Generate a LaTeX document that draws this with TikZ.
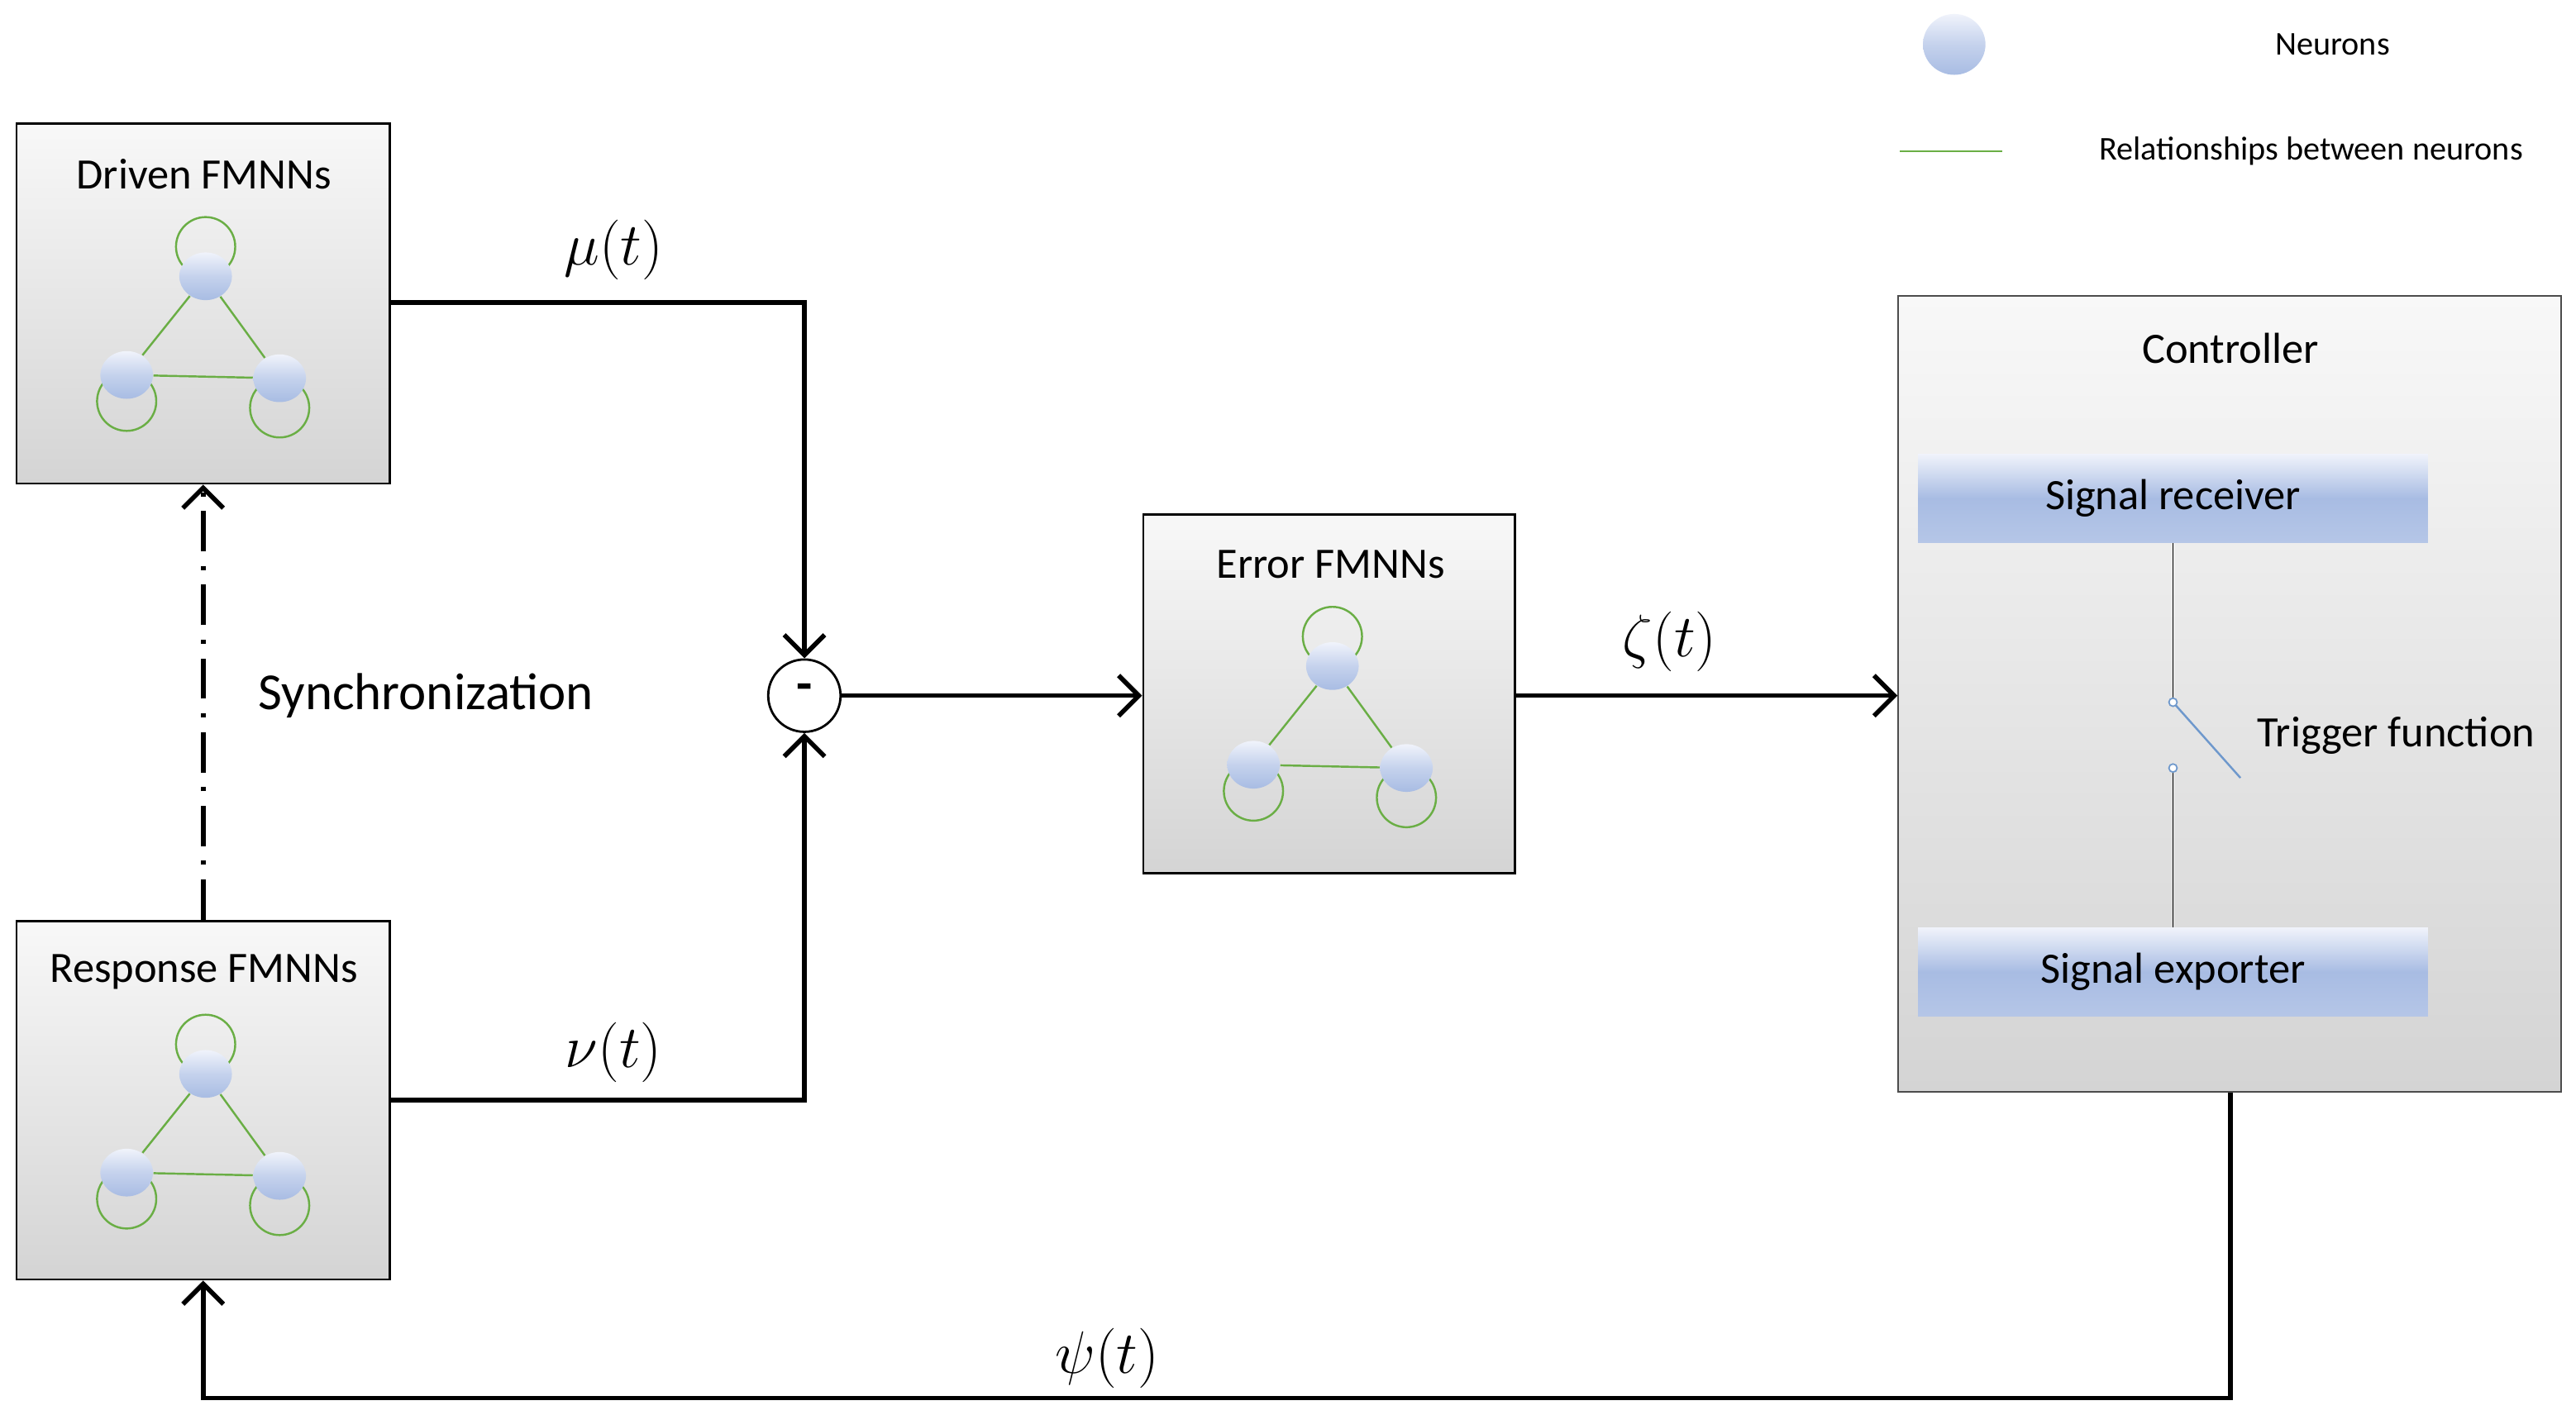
\documentclass[tikz,border=0pt]{standalone}
\usepackage{fontspec}
\setmainfont{Carlito}
\usetikzlibrary{arrows.meta,shapes.geometric,shadings}
\definecolor{nTop}{HTML}{F0F3FB}
\definecolor{nBot}{HTML}{A8BCE3}
\definecolor{gTop}{HTML}{F8F8F8}
\definecolor{gBot}{HTML}{D4D4D4}
\definecolor{lg}{HTML}{6AAE45}
\definecolor{sw}{HTML}{6E98CC}
\tikzset{
  box/.style={draw=black, line width=0.8pt, top color=gTop, bottom color=gBot, inner sep=0pt},
  neuron/.style={ellipse, inner sep=0pt, minimum width=0.64cm, minimum height=0.58cm, top color=nTop, bottom color=nBot, middle color=nBot!60!nTop},
  rel/.style={draw=lg, line width=0.7pt},
  bar/.style={inner sep=0pt, minimum width=6.2cm, minimum height=1.08cm, top color=nTop, bottom color=nBot!85!white, middle color=nBot},
  flow/.style={line width=1.6pt, -{Straight Barb[length=7pt,width=14pt,line width=1.6pt]}},
  ttl/.style={font=\fontsize{15}{18}\selectfont},
  ml/.style={font=\fontsize{22}{26}\selectfont},
  leg/.style={font=\fontsize{11.5}{13}\selectfont},
}
\newcommand{\fmnnnet}[3]{%
  \draw[rel] (#2,#3-18) circle (0.36cm);
  \draw[rel] (#2-48,#3+76) circle (0.36cm);
  \draw[rel] (#2+45,#3+80) circle (0.36cm);
  \node[neuron] (#1t) at (#2,#3) {};
  \node[neuron] (#1l) at (#2-48,#3+60) {};
  \node[neuron] (#1r) at (#2+45,#3+62) {};
  \draw[rel] (#1t) -- (#1l);
  \draw[rel] (#1t) -- (#1r);
  \draw[rel] (#1l) -- (#1r);
}
\begin{document}
\begin{tikzpicture}[x=0.02cm,y=-0.02cm]
\useasboundingbox (0,0) rectangle (1566,860.4);
% boxes
\node[box, minimum width=4.54cm, minimum height=4.38cm] (drv) at (123.5,184.5) {};
\node[box, minimum width=4.54cm, minimum height=4.36cm] (rsp) at (123.5,669) {};
\node[box, minimum width=4.52cm, minimum height=4.36cm] (err) at (808,422) {};
\node[box, draw=black!70, line width=0.6pt, minimum width=8.06cm, minimum height=9.68cm] (ctl) at (1355.5,422) {};
\node[ttl] (drvT) at (124,106) {Driven FMNNs};
\node[ttl] (rspT) at (124,591) {Response FMNNs};
\node[ttl] (errT) at (809,343) {Error FMNNs};
\node[ttl] (ctlT) at (1356,212) {Controller};
\fmnnnet{d}{125}{168}
\fmnnnet{r}{125}{653}
\fmnnnet{e}{810}{405}
% controller internals
\node[bar, ttl] (rcv) at (1321,303) {Signal receiver};
\node[bar, ttl] (exp) at (1321,591) {Signal exporter};
\coordinate (s1) at (1321,427);
\coordinate (s2) at (1321,467);
\coordinate (s3) at (1362,473);
\draw[line width=0.5pt] (rcv.south -| s1) -- ([yshift=-0.05cm]s1);
\draw[line width=0.5pt] ([yshift=0.05cm]s2) -- (exp.north -| s2);
\draw[sw, line width=0.7pt] (s1) -- (s3);
\draw[sw, line width=0.5pt, fill=white] (s1) circle (0.05cm);
\draw[sw, line width=0.5pt, fill=white] (s2) circle (0.05cm);
\node[ttl, anchor=west] (trg) at (1366,447) {Trigger function};
% summing junction
\node[circle, draw, line width=0.8pt, minimum size=0.88cm, inner sep=0pt, fill=white] (sum) at (489,423) {};
\node[font=\fontsize{18}{18}\bfseries\selectfont] (minus) at (489,421) {-};
% flows
\draw[flow] (drv.east |- 0,184) -| (sum.north);
\draw[flow] (rsp.east |- 0,669) -| (sum.south);
\draw[flow] (sum.east) -- (err.west |- sum.east);
\draw[flow] (err.east |- 0,423) -- (ctl.west |- 0,423);
\coordinate (c1) at (1356,850);
\draw[flow] (ctl.south -| c1) -- (c1) -| (rsp.south);
\draw[line width=1.6pt, dash pattern=on 14pt off 5pt on 1.5pt off 5pt, -{Straight Barb[length=7pt,width=14pt,line width=1.6pt]}] (rsp.north) -- (drv.south);
% labels
\node[ml] (mu) at (373,152) {$\mu(t)$};
\node[ml] (nu) at (373,640) {$\nu(t)$};
\node[ml] (ze) at (1015,390) {$\zeta(t)$};
\node[ml] (ps) at (673,826) {$\psi(t)$};
\node[font=\fontsize{18}{21}\selectfont] (syn) at (259,423) {Synchronization};
% legend
\node[neuron, minimum width=0.76cm, minimum height=0.74cm] (legN) at (1188,27) {};
\node[leg] (legNT) at (1418,27) {Neurons};
\coordinate (l1) at (1155,92);
\coordinate (l2) at (1217,92);
\draw[draw=lg, line width=0.5pt] (l1) -- (l2);
\node[leg] (legRT) at (1405,92) {Relationships between neurons};
\end{tikzpicture}
\end{document}
